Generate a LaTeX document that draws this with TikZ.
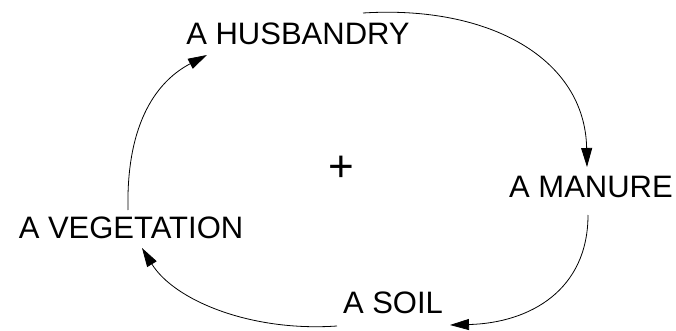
\documentclass[tikz,border=0pt]{standalone}
\usepackage{fontspec}
\setmainfont{Liberation Sans}
\usetikzlibrary{arrows.meta,calc}
\begin{document}
\begin{tikzpicture}[x=1pt,y=-1pt,
  lbl/.style={inner sep=0pt, font=\fontsize{31}{31}\selectfont},
  link/.style={line width=0.8pt, -{Triangle[length=19pt,width=11pt]}}]
\useasboundingbox (0,0) rectangle (676,331);
\node[lbl] (hus) at (298,34) {A HUSBANDRY};
\node[lbl] (man) at (591,187) {A MANURE};
\node[lbl] (soil) at (393,303) {A SOIL};
\node[lbl] (veg) at (131,228) {A VEGETATION};
\node[inner sep=0pt, font=\fontsize{44}{44}\selectfont] (pol) at (341,169) {+};
\draw[link] ($(hus)+(65,-21)$) .. controls +(127,-8) and +(-2,-108) .. ($(man)+(-4,-20)$);
\draw[link] ($(man)+(-3,28)$) .. controls +(0,75) and +(80,-2) .. ($(soil)+(57,22)$);
\draw[link] ($(soil)+(-56,23)$) .. controls +(-87,6) and +(32,52) .. ($(veg)+(11,20)$);
\draw[link] ($(veg)+(-3,-18)$) .. controls +(-2,-90) and +(-48,25) .. ($(hus)+(-91,21)$);
\end{tikzpicture}
\end{document}
